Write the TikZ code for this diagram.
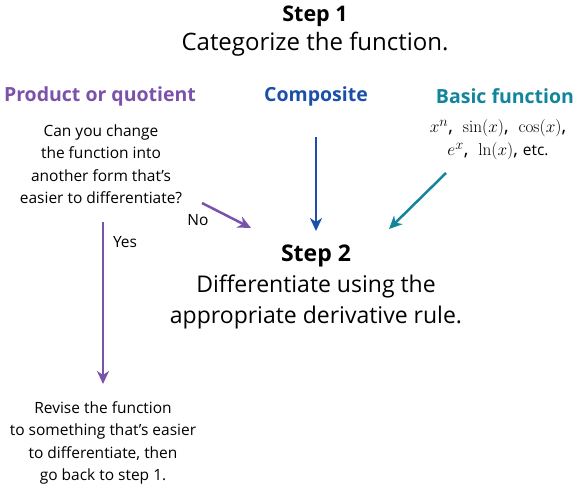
\documentclass[tikz,border=0pt]{standalone}
\usepackage[no-math]{fontspec}
\setmainfont{Open Sans}
\usetikzlibrary{arrows.meta,positioning}
\definecolor{prodcol}{HTML}{7B52AB}
\definecolor{compcol}{HTML}{1B4FA8}
\definecolor{basiccol}{HTML}{11869A}
\tikzset{
  heading/.style={font=\fontsize{19.5}{22}\selectfont\bfseries},
  smalltext/.style={font=\fontsize{15.5}{22.5}\selectfont, align=center, inner sep=0pt},
  flowarrow/.style={line width=2.5pt, -{Stealth[length=13pt,width=12pt,inset=4pt]}}
}
\begin{document}
\begin{tikzpicture}[x=1pt,y=-1pt]
        \useasboundingbox (0,0) rectangle (581,489);

        % Step 1
        \node[font=\fontsize{24}{29}\selectfont, align=center, inner sep=0pt] (step1) at (315,31)
            {{\fontsize{21.5}{29}\selectfont\textbf{Step 1}}\\Categorize the function.};

        % Categories
        \node[heading, text=prodcol] (prod) at (100,96) {Product or quotient};
        \node[heading, text=compcol] (comp) at (316,96) {Composite};
        \node[heading, text=basiccol] (basic) at (505,96) {Basic function};

        % Question and examples
        \node[smalltext] (question) at (101,164)
            {Can you change\\the function into\\another form that's\\easier to differentiate?};
        \node[smalltext, font=\fontsize{19}{23}\selectfont] (examples) at (498,140)
            {$x^n$,\ \ $\sin(x)$,\ \ $\cos(x)$,\\$e^x$,\ \ $\ln(x)$, {\fontsize{15.5}{16}\selectfont etc.}};

        % Step 2
        \node[font=\fontsize{23}{31}\selectfont, align=center, inner sep=0pt] (step2) at (316,287)
            {\textbf{Step 2}\\Differentiate using the\\appropriate derivative rule.};

        % Revise
        \node[smalltext] (revise) at (103,443)
            {Revise the function\\to something that's easier\\to differentiate, then\\go back to step 1.};

        % Connector ends
        \coordinate (noA) at (202,203);
        \coordinate (noB) at (251,228);
        \coordinate (compA) at (316,137);
        \coordinate (compB) at (316,231);
        \coordinate (basicA) at (446,173);
        \coordinate (basicB) at (389,229);
        \coordinate (yesA) at (103,222);
        \coordinate (yesB) at (103,384);

        % Arrows
        \draw[flowarrow, prodcol] (noA) -- (noB);
        \draw[flowarrow, compcol] (compA) -- (compB);
        \draw[flowarrow, basiccol] (basicA) -- (basicB);
        \draw[flowarrow, prodcol] (yesA) -- (yesB);

        % Labels
        \node[font=\fontsize{15.5}{16}\selectfont] (no) at (198,220) {No};
        \node[font=\fontsize{15.5}{16}\selectfont] (yes) at (125,242) {Yes};

    \end{tikzpicture}
\end{document}
